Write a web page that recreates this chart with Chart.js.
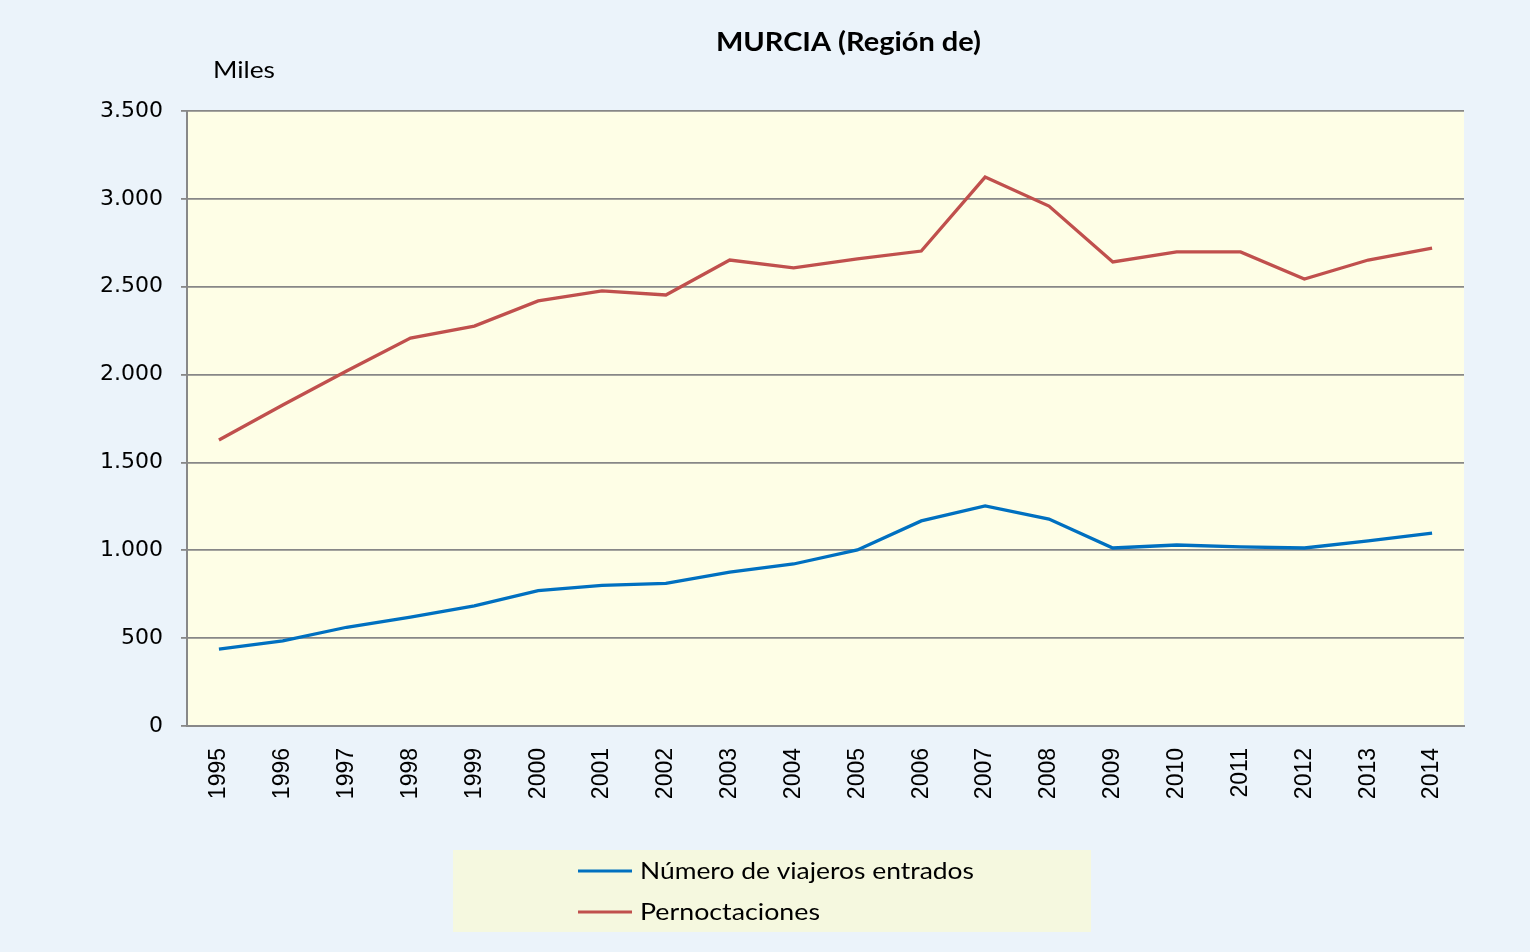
<!DOCTYPE html>
<html>
<head>
<meta charset="utf-8">
<script src="https://cdn.jsdelivr.net/npm/chart.js@4.4.1/dist/chart.umd.min.js"></script>
<style>
  html, body { margin: 0; padding: 0; background: #EBF3FA; }
  #wrap { position: relative; width: 1530px; height: 952px; }
</style>
</head>
<body>
<div id="wrap"><canvas id="c" width="1530" height="952"></canvas></div>
<script>
const years = ['1995','1996','1997','1998','1999','2000','2001','2002','2003','2004','2005','2006','2007','2008','2009','2010','2011','2012','2013','2014'];
const viajeros = [438, 484, 562, 619, 684, 770, 800, 812, 876, 922, 1002, 1167, 1252, 1178, 1013, 1030, 1019, 1013, 1053, 1098];
const pernoctaciones = [1628, 1827, 2020, 2208, 2276, 2419, 2476, 2453, 2652, 2607, 2658, 2703, 3124, 2959, 2641, 2698, 2698, 2544, 2652, 2720];
const yTicks = [0, 500, 1000, 1500, 2000, 2500, 3000, 3500];
const titleText = 'MURCIA (Región de)';
const unitText = 'Miles';
const seriesNames = ['Número de viajeros entrados', 'Pernoctaciones'];

const fmt = v => v.toLocaleString('de-DE');

function stretchedText(ctx, text, x, y, targetWidth) {
  const w = ctx.measureText(text).width;
  const k = targetWidth / w;
  ctx.save();
  ctx.translate(x, y);
  ctx.scale(k, 1);
  ctx.fillText(text, 0, 0);
  ctx.restore();
}

const decorPlugin = {
  id: 'decor',
  beforeDraw(chart) {
    const { ctx, chartArea: a } = chart;
    ctx.save();
    ctx.fillStyle = '#FEFEE6';
    ctx.fillRect(a.left, a.top, a.right - a.left, a.bottom - a.top);
    ctx.restore();
  },
  afterDraw(chart) {
    const { ctx } = chart;
    ctx.save();
    ctx.textAlign = 'left';
    ctx.textBaseline = 'middle';
    // title
    ctx.fillStyle = '#000';
    ctx.font = 'bold 26px Lato';
    stretchedText(ctx, titleText, 716, 43, 265);
    // unit
    ctx.font = '23px Lato';
    stretchedText(ctx, unitText, 213, 71, 62);
    // legend
    ctx.fillStyle = '#F5F8DF';
    ctx.fillRect(453, 850, 638, 82);
    const ys = [871, 912];
    const widths = [334, 180];
    chart.data.datasets.forEach((ds, i) => {
      ctx.strokeStyle = ds.borderColor;
      ctx.lineWidth = 3.2;
      ctx.beginPath();
      ctx.moveTo(578, ys[i]);
      ctx.lineTo(632, ys[i]);
      ctx.stroke();
      ctx.fillStyle = '#000';
      ctx.font = '23px Lato';
      stretchedText(ctx, ds.label, 640, ys[i] + 1, widths[i]);
    });
    ctx.restore();
  }
};

new Chart(document.getElementById('c'), {
  type: 'line',
  data: {
    labels: years,
    datasets: [
      { label: seriesNames[0], data: viajeros, borderColor: '#0070C0', borderWidth: 3.3, pointRadius: 0, tension: 0, fill: false },
      { label: seriesNames[1], data: pernoctaciones, borderColor: '#C0504D', borderWidth: 3.3, pointRadius: 0, tension: 0, fill: false }
    ]
  },
  options: {
    responsive: false,
    animation: false,
    events: [],
    layout: { padding: { top: 111, right: 66, left: 0, bottom: 0 } },
    plugins: { legend: { display: false }, title: { display: false }, tooltip: { enabled: false } },
    scales: {
      x: {
        offset: true,
        grid: { display: false },
        border: { display: true, color: '#888888', width: 2 },
        ticks: { color: '#000', font: { family: 'Liberation Sans', size: 23 }, minRotation: 90, maxRotation: 90, padding: 14, autoSkip: false },
        afterFit(s) { s.height = 952 - 726; }
      },
      y: {
        min: 0, max: 3500,
        afterBuildTicks(s) { s.ticks = yTicks.map(v => ({ value: v })); },
        grid: { color: '#878787', lineWidth: 1.8, tickLength: 6, drawTicks: true },
        border: { display: true, color: '#888888', width: 2 },
        ticks: { color: '#000', font: { family: 'DejaVu Sans', size: 22 }, padding: 18, callback: v => fmt(v) },
        afterFit(s) { s.width = 187; }
      }
    }
  },
  plugins: [decorPlugin]
});
</script>
</body>
</html>
